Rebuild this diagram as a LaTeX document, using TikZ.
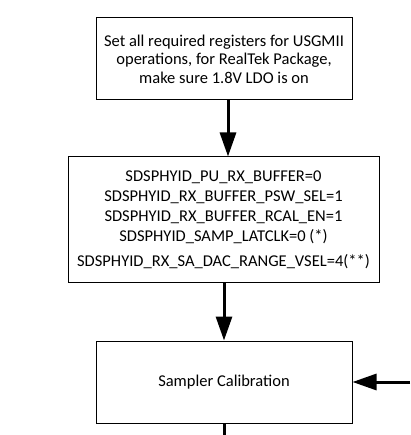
\documentclass[tikz,border=0pt]{standalone}
\usepackage{fontspec}
\setmainfont{Carlito}
\usetikzlibrary{arrows.meta}
\begin{document}
\begin{tikzpicture}[x=1pt,y=-1pt,
  box/.style={draw=black,line width=1pt,rectangle,inner sep=0pt,align=center,
    font=\fontsize{16.5}{18.5}\selectfont},
  flow/.style={line width=3pt,-{Triangle[length=24pt,width=16pt]}},
  plain/.style={line width=3pt}]
\useasboundingbox (0,0) rectangle (410,435);
\node[box,minimum width=256pt,minimum height=82pt] (b1) at (224,59)
  {Set all required registers for USGMII\\operations, for RealTek Package,\\make sure 1.8V LDO is on};
\node[box,minimum width=311pt,minimum height=125pt,font=\fontsize{16.5}{20}\selectfont] (b2) at (223.5,219.5)
  {SDSPHYID\_PU\_RX\_BUFFER=0\\SDSPHYID\_RX\_BUFFER\_PSW\_SEL=1\\SDSPHYID\_RX\_BUFFER\_RCAL\_EN=1\\SDSPHYID\_SAMP\_LATCLK=0 (*)\\[5pt]SDSPHYID\_RX\_SA\_DAC\_RANGE\_VSEL=4(**)};
\node[box,minimum width=256pt,minimum height=82pt] (b3) at (224,382)
  {Sampler Calibration};
\coordinate (r) at (410,382);
\coordinate (bot) at (224,435);
\draw[flow] ([xshift=4pt]b1.south) -- ([xshift=4.5pt]b2.north);
\draw[flow] (b3.north |- b2.south) -- (b3.north);
\draw[flow] (r) -- (b3.east);
\draw[plain] (b3.south) -- (bot);
\end{tikzpicture}
\end{document}
